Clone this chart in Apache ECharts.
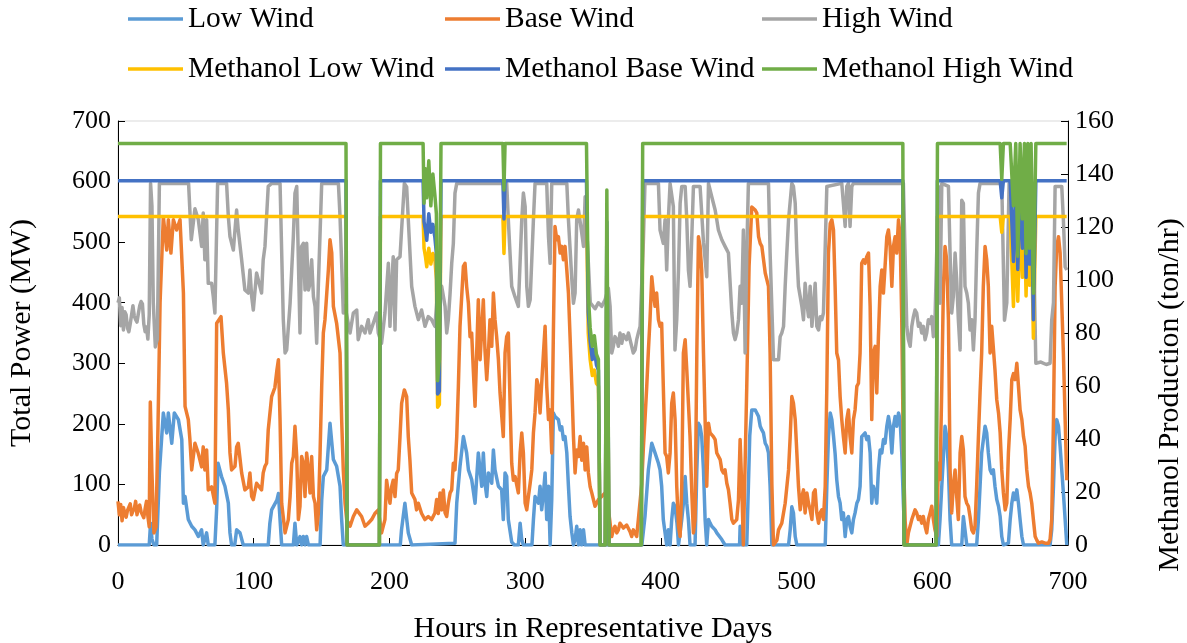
<!DOCTYPE html>
<html><head><meta charset="utf-8">
<script src="https://cdn.jsdelivr.net/npm/echarts@6/dist/echarts.min.js"></script>
<style>html,body{margin:0;padding:0;background:#fff}#c{width:1187px;height:643px}</style>
</head><body><div id="c"></div>
<script>
const xTicks = [0,100,200,300,400,500,600,700];
const leftTicks = [0,100,200,300,400,500,600,700];
const rightTicks = [0,20,40,60,80,100,120,140,160];
const seriesNames = ['Low Wind','Base Wind','High Wind','Methanol Low Wind','Methanol Base Wind','Methanol High Wind'];

const lowWind = [[0,0],[23,0],[24,36],[25,10],[26.5,0],[28.5,0],[30.5,120],[33.4,218],[35.9,185],[37.1,218],[39.6,168],[41.5,218],[44.5,207],[47,174],[48.2,69],[49.4,80],[51.8,42],[54.3,31],[56.7,25],
[59.2,14],[61.6,25],[62.8,0],[65.3,20],[66.5,0],[71.4,0],[72.7,60],[73.7,135],[76.3,113],[78.8,97],[81.3,69],[82.5,20],[83.7,0],[86,0],[87.4,25],[89.9,20],[92.3,0],[110.7,0],[111.9,36],[113.2,58],[117.1,74],
[118.2,85],[119.4,42],[120.6,0],[129.2,0],[130.4,36],[131.7,0],[134.1,14],[135.3,0],[136.6,14],[137.8,0],[139,14],[140.3,0],[148.9,0],[150.1,74],[151.3,113],[153.8,124],[156.2,201],[158.7,141],[161.1,130],[163.6,97],[164.8,42],[166,0],
[208,0],[208.9,25],[211.4,69],[213.9,20],[216.4,0],
[248.3,3],[249.6,69],[252,130],[254.5,179],[256.9,152],[258.2,124],[260.6,108],[263.1,69],[265.5,152],[268,97],[269.2,152],[270.4,102],[271.7,80],[272.9,119],[275.4,102],[276.6,157],[277.8,124],[280.3,97],[282.7,91],[283.9,42],[285.2,119],[286.4,113],[287.6,42],[290.1,5],[292,0],
[295,0],[296.3,36],[297.5,9],[298.7,0],[305,0],[306.1,42],[307.3,80],[309.8,69],[311,97],[312.2,58],[313.5,86],[314.7,119],[315.9,42],[317.2,97],[318.4,0],[319.6,75],[320.8,218],[322,212],[324.5,207],[325.8,190],[327,195],[328.2,174],[329.4,179],[330.7,152],[331.9,97],[333.1,47],[334.4,20],[335.6,0],[336.8,9],[338,31],[339.3,0],[340.5,25],[341.7,0],[343,25],[344.2,0],
[386,0],[388.3,47],[390.8,124],[393.3,168],[395.7,152],[398.2,135],[399.4,124],[400.6,97],[401.8,42],[403.1,20],[404.3,0],[405.5,25],[406.8,0],[408,42],[409.2,69],[410.4,64],[411.9,36],[413,0],[414.2,0],[415.4,42],[416.6,69],[417.9,113],[419.1,69],[420.3,42],[421.5,0],[425.2,0],[426.5,124],[427.7,201],[428.9,196],[430.1,179],[431.4,124],[432.6,42],[433.8,0],[435.1,42],[436.3,36],[437.5,31],[438.7,31],[440,25],[441.2,20],[442.4,20],[444.9,9],[447.3,0],[458,0],[458.4,31],[459.6,0],[463.3,0],[464.5,97],[465.5,180],[467,223],[469.5,223],[470.7,218],[472,212],[473.2,196],[474.4,190],[475.6,185],[476.9,168],[478.1,163],[479.3,152],[480.5,97],[481.8,0],[494.1,0],[495.3,25],[496.5,63],[497.7,53],[499,14],[500.2,0],[521.1,0],[522.3,97],[523.5,179],[524.8,218],[526,207],[527.2,180],[528.4,151],[529.6,108],[530.9,80],[532.1,69],[533.3,42],[534.5,53],[535.8,14],[537,42],[538.2,47],[539.4,31],[540.7,20],[541.9,42],[543.1,53],[544.4,69],[545.6,75],[546.8,97],[548,179],[549.3,179],[550.5,185],[551.7,174],[553,179],[554.2,152],[555.4,69],[556.6,97],[557.9,86],[559.1,69],[560.3,124],[561.6,157],[562.8,152],[564,174],[565.2,168],[566.5,196],[567.7,212],[568.9,196],[570.2,152],[571.4,196],[572.6,212],[573.8,196],[575.1,218],[576.3,207],[577.5,152],[578.7,69],[580,0],
[604.5,0],[605.7,42],[607,97],[609.4,196],[610.6,179],[611.9,124],[613.1,42],[614.3,0],[621.7,0],[622.9,47],[624.1,25],[625.4,0],[632.7,0],[634,42],[635.2,97],[636.4,152],[638.9,196],[640.1,185],[641.3,152],[642.6,124],[643.8,118],[645,124],[646.2,97],[647.5,75],[648.8,64],[650,47],[651.2,14],[652.4,0],[656.1,3],[657.4,42],[658.6,69],[659.8,86],[661,75],[662.3,91],[663.5,69],[664.7,42],[666,14],[667.2,0],[686.8,0],[688,25],[689.3,97],[690.5,179],[691.7,207],[693,196],[694.2,163],[695.4,124],[696.6,86],[697.9,42],[699.1,0]];

const baseWind = [[0,72],[1,50],[2,67],[3,40],[4,62],[5,52],[6,46],[7,57],[8,54],[9,68],[10,50],[11,56],[12,60],[13,72],[14,50],[15,62],[16,66],[17,55],[18,50],[19,45],[20,60],[21,72],[22,48],[23,30],[23.8,236],[25,120],[26.5,20],[28,30],[29.5,200],[31,400],[33.4,542],[35.9,487],[37.1,537],[39,482],[40.8,537],[43.2,520],[45.7,537],[48.2,416],[49.4,229],[50.6,230],[51.8,207],[53,174],[54.3,124],[56.7,168],
[59.2,151],[61.6,129],[62.8,162],[64,124],[65.3,157],[66.5,91],[69,96],[71.4,69],[72.7,366],[75.9,377],[77.6,317],[80,267],[81.3,223],[82.5,152],[83.7,124],[86.2,130],[87.4,162],[88.6,168],[91.1,119],[93.5,91],[96,96],[97.2,119],[98.5,80],[99.7,75],[102.1,102],[103.4,102],[105.8,91],[107,119],[108.3,130],[109.5,135],[110.7,190],[113.2,245],[115.6,260],[117.1,289],
[118.2,306],[119.4,207],[120.6,69],[123.1,20],[125.5,42],[126.8,80],[128,135],[129.2,146],[130.4,196],[131.7,146],[132.9,42],[134.1,64],[135.3,146],[136.6,135],[137.8,80],[139,152],[140.3,124],[141.5,86],[142.7,146],[144,80],[145.2,69],[146.4,25],[147.6,52],[148.9,152],[150.1,262],[151.3,350],[152.5,372],[155,454],[156.2,504],[157.5,482],[158.7,394],[161.1,366],[163.6,317],[164.8,207],[166,124],[167.3,69],[168.5,42],[171,31],[173.4,47],[175.9,58],
[177,58],[179.5,47],[182,31],[184.4,36],[186.9,42],[189.3,52],[191.8,58],[194.2,20],[196.7,42],[197.9,107],[199.2,86],[200.4,69],[201.6,96],[202.8,107],[204.1,80],[205.3,118],[206.5,124],[207.8,179],[209,234],[211,256],[212.7,245],[213.9,179],[215.1,140],[216.4,86],[218.8,75],[220,58],[221.3,69],[223.7,52],[226.2,42],[228.6,47],[231.1,42],[233.5,53],
[234.8,75],[236,52],[237.3,86],[238.5,58],[239.7,91],[241,53],[242.2,47],[243.4,69],[244.7,86],[245.9,91],[247.1,135],[248.3,124],[249.6,179],[250.8,262],[252,361],[254.5,460],[255.7,465],[256.9,427],[258.2,399],[259.4,344],[260.6,350],[261.8,289],[263.1,229],[264.3,317],[265.5,405],[266.8,306],[268,306],[269.2,405],[270.4,322],[271.7,273],[272.9,317],[274.1,372],[275.4,328],[276.6,416],[277.8,372],[279,344],[280.3,306],[281.5,251],[282.7,251],[283.9,179],[285.2,317],[286.4,344],[287.6,350],[288.9,234],[290.1,135],[291.3,107],
[292.6,113],[295,86],[296.3,152],[297.5,185],[298.7,152],[300,69],[301.2,58],[302.4,80],[303.7,102],[304.9,124],[306.1,185],[307.3,218],[308.6,273],[309.8,262],[311,218],[312.2,267],[313.5,317],[314.7,361],[315.9,262],[317.2,207],[318.4,223],[319.6,152],[320.8,350],[322,526],[323.3,504],[324.5,509],[325.8,482],[327,493],[328.2,471],[329.4,493],[330.7,454],[331.9,416],[333.1,344],[334.4,262],[335.6,179],[336.8,119],[338,157],[339.3,146],[340.5,179],[341.7,140],[343,168],[344.2,124],[345.4,162],[346.6,119],[347.9,96],[349.1,86],[351.5,64],
[354,75],[356.4,80],[358.9,86],[361.3,60],[363.8,14],[365,25],[366.2,31],[367.5,20],[368.7,25],[369.9,36],[371.2,36],[372.4,28],[373.6,25],[374.8,33],[376.1,31],[377.3,22],[378.5,14],[379.7,25],[381,25],[382.2,14],[383.4,42],[385.9,100],[387.1,160],[388.3,207],[389.6,262],[390.8,320],[392,372],[393.3,443],[394.5,416],[395.7,394],[396.9,416],[398.2,372],[399.4,361],[400.6,366],[401.8,262],[403.1,152],[404.3,146],[405.5,119],[406.8,152],[408,234],[409.2,251],[410.5,206],
[411.7,97],[413,31],[414.2,14],[415.4,97],[416.6,317],[417.9,339],[419.1,289],[420.3,234],[421.5,179],[422.8,86],[424,20],[425.2,42],[426.5,317],[427.7,509],[428.9,493],[430.1,454],[431.4,317],[432.6,207],[433.8,97],[435.1,201],[436.3,185],[437.5,185],[438.7,179],[440,174],[441.2,152],[442.4,152],[443.7,141],[444.9,124],[446.1,119],[447.3,124],[448.6,102],[449.8,91],[451,69],[452.3,42],[453.5,36],[454.7,36],[455.9,42],[457.2,75],[458.4,174],[459.6,97],[460.8,0],[462.1,0],[463.3,262],[465,460],[467,558],[469.5,553],
[470.7,548],[472,509],[473.2,498],[474.4,493],[475.6,493],[476.9,449],[478.1,438],[479.3,427],[480.5,317],[481.8,100],[483,0],[484.2,0],[485.5,8],[486.7,25],[489.1,36],[491.6,69],[494.1,124],[495.3,179],[496.5,245],[497.7,234],[499,207],[500.2,152],[501.4,97],[502.7,58],[503.9,80],[505.1,91],[506.3,53],[507.6,86],[508.8,69],[510,58],[511.3,42],[512.5,86],[513.7,91],[514.9,53],[516.2,36],[517.4,53],[518.6,58],[519.8,42],[521.1,97],[522.3,262],[523.5,482],[524.8,531],[526,537],[527.2,520],[528.4,427],
[529.6,317],[530.9,305],[532.1,245],[533.3,207],[534.5,179],[535.8,152],[537,207],[538.2,223],[539.4,179],[540.7,152],[541.9,207],[543.1,223],[544.4,262],[545.6,267],[546.8,317],[548,465],[549.3,471],[550.5,465],[551.7,476],[553,482],[554.2,394],[555.4,207],[556.6,317],[557.9,328],[559.1,251],[560.3,344],[561.6,427],[562.8,454],[564,416],[565.2,460],[566.5,509],[567.7,520],[568.9,493],[570.2,427],[571.4,493],[572.6,509],[573.8,482],[575.1,537],[576.3,509],[577.5,372],[578.7,151],[580,40],[581.2,0],[582.4,20],[584.9,42],[587.3,58],
[588.5,53],[589.8,42],[591,47],[592.2,36],[593.4,47],[594.7,31],[595.9,20],[597.1,42],[598.4,53],[599.6,64],[600.8,42],[602,25],[603.3,14],[604.5,135],[605.7,108],[607,262],[608.2,427],[609.4,493],[610.6,471],[611.9,372],[613.1,124],[614.3,53],[615.5,97],[616.8,124],[618,80],[619.2,42],[620.5,152],[621.7,179],[622.9,157],[624.1,80],[625.4,69],[626.6,64],[627.8,47],[629.1,25],[630.3,20],[631.5,31],[632.7,97],[634,179],[635.2,251],[636.4,317],[637.6,427],[638.9,493],[640.1,471],[641.3,427],[642.6,317],[643.8,361],[645,361],[646.2,289],
[647.5,240],[648.8,218],[650,185],[651.2,124],[652.4,86],[653.7,58],[654.9,69],[656.1,152],[657.4,207],[658.6,273],[659.8,283],[661,273],[662.3,300],[663.5,262],[664.7,223],[666,207],[667.2,179],[668.4,163],[669.6,124],[670.9,97],[672.1,86],[673.3,69],[674.5,42],[675.8,14],[677,8],[678.2,3],[680.7,5],[683.1,3],[685.6,3],[686.8,9],[688,42],[689.3,207],[690.5,427],[691.7,493],[693,509],[694.2,482],[695.4,399],[696.6,317],[697.9,207],[699.1,107]];

const highWind = [[0,400],[1,408],[2,362],[3,392],[4,355],[5,385],[6,380],[7,358],[8,352],[9,365],[10,362],[11,395],[12,378],[13,372],[14,368],[15,382],[16,395],[17,402],[18,398],[19,365],[20,352],[21,360],[22,340],[23,380],[24,597],[25,560],[26,400],[27.5,327],[29,340],[30.5,597],[52,597],[54,504],[56.7,555],
[59.2,537],[61.6,493],[62.8,548],[64,471],[65.3,537],[66.5,432],[69,432],[70.2,410],[71.4,383],[73.4,597],[80,597],[81.3,542],[82.5,509],[85,487],[86.2,520],[87.4,553],[88.6,520],[91.1,471],[93.5,421],[96,416],[97.2,454],[98.5,410],[99.7,388],[102.1,449],[103.4,451],[105.8,416],[107,471],[108.3,493],[109.5,493],[110.7,592],[113.2,597],
[119.4,597],[121.8,372],[123.1,317],[124.3,322],[126.8,399],[129.2,509],[130.4,581],[131.7,592],[132.9,471],[134.1,350],[135.3,493],[136.6,498],[137.8,421],[139,498],[140.3,421],[141.5,432],[142.7,471],[144,410],[145.2,394],[146.4,333],[147.6,427],[150.1,597],[162.4,597],[163.6,542],[164.8,465],[166,383],[167.3,394],[171,350],[173.4,383],[175.9,388],
[177,339],[179.5,361],[182,350],[184.4,372],[185.7,350],[188.1,366],[190.6,383],[191.8,350],[194.2,333],[196.7,383],[199.2,465],[200.4,361],[201.6,427],[202.8,476],[204.1,355],[205.3,471],[207.8,476],[211,597],[212.7,591],[213.9,537],[216.4,427],[218.8,394],[221.3,372],[223.7,388],[226.2,361],[228.6,377],[231.1,372],[233.5,361],
[236,432],[238.5,427],[241,394],[242.2,350],[243.4,372],[244.7,416],[245.9,465],[247.1,498],[248.3,581],[249.6,597],[286.4,597],[287.6,537],[290.1,427],[292.5,410],
[295,394],[297.5,537],[298.7,581],[300,559],[301.2,427],[302.4,394],[303.7,405],[306.1,537],[307.3,597],[315.9,597],[317.2,509],[318.4,465],[319.6,597],[330.7,597],[331.9,537],[334.4,438],[335.6,399],[336.8,416],[338,537],[339.3,553],[341.7,515],[343,493],[344.2,575],[345.4,520],[348,400],[351.5,390],
[354,400],[356.4,394],[358.9,405],[361.3,424],[362.6,394],[363.8,317],[365,328],[366.2,344],[367.5,339],[368.7,328],[369.9,350],[371.2,333],[372.4,347],[373.6,344],[374.8,339],[376.1,350],[377.3,339],[378.5,328],[379.7,317],[381,322],[382.2,339],[383.4,350],[384.7,361],[387.1,500],[388.3,597],[398.2,597],[399.4,520],[400.6,509],[401.8,498],[403.1,537],[404.3,454],[405.5,537],[406.8,597],[408,597],[409.2,559],[410.4,322],
[411.7,372],[413,454],[414.2,564],[415.4,592],[417.9,592],[419.1,537],[420.3,454],[421.5,427],[422.8,509],[424,592],[428.9,592],[431.4,500],[433.8,443],[435.1,597],[436.3,597],[437.5,575],[440,553],[441.2,537],[442.4,520],[444.9,504],[447.3,493],[449.8,482],[452.3,383],[453.5,350],[454.7,339],[455.9,350],[457.2,372],[458.4,427],[459.6,399],[460.8,520],[462.1,317],[463.3,480],[464.5,597],
[479.3,597],[480.5,482],[483,306],[486.7,306],[487.9,344],[489.1,350],[490.4,361],[491.6,427],[492.8,482],[494.1,537],[496.5,597],[497.7,592],[499,564],[500.2,482],[501.4,427],[503.9,394],[505.1,372],[506.3,432],[507.6,399],[508.8,377],[510,427],[511.3,361],[512.5,394],[513.7,432],[514.9,361],[516.2,355],[517.4,377],[518.6,372],[519.8,383],[521.1,383],[522.3,592],[533.3,597],[534.5,564],[535.8,526],[537,592],[538.2,597],[539.4,526],[540.7,592],[541.9,597],[578.7,597],[581.2,361],[582.4,339],[583.7,328],[584.9,361],[586.1,377],[587.3,388],
[588.5,383],[589.8,361],[591,366],[592.2,350],[593.4,361],[594.7,339],[595.9,350],[597.1,372],[598.4,366],[599.6,377],[600.8,344],[602,372],[604.5,592],[605.7,399],[607,597],[611.9,592],[613.1,482],[614.3,383],[615.5,410],[616.8,482],[618,437],[619.2,372],[620.5,322],[621.7,569],[622.9,564],[624.1,427],[625.4,416],[626.6,399],[627.8,355],[629.1,372],[630.3,322],[631.5,372],[632.7,482],[634,581],[635.2,597],
[651.2,597],[653.2,371],[654.9,400],[656.6,597],[674.5,597],[675.3,420],[676.3,300],[680,302],[684,298],[686.8,300],[688,371],[689.3,400],[690.5,592],[695.4,592],[696.6,537],[697.9,459],[699.1,454]];

const methLow = [[0,124],[168,124],[168.8,0],[192.6,0],[193.4,124],[224.8,124],[225.5,112],[226.5,109],[227.5,105],[229,112],[230.5,106],[232,110],[233.5,108],[234.6,100],[235.5,52],[236.8,53],[238,124],[283.6,124],[284.4,110],[285.2,124],[345.2,124],[346.5,80],[347.9,70],[349.5,64],[351,66],[352.5,61],[354,60],[355.2,0],[359,0],[360.2,110],[361.8,0],[385.6,0],[386.6,124],[578.3,124],[579.2,0],[602.8,0],[603.8,124],[650,124],[651.2,118],[652.4,124],[657.4,124],[659.8,90],[661.5,124],[663,92],[664.7,124],[666.4,101],[667.9,124],[669.1,94],[670.4,124],[671.6,98],[672.8,124],[674.5,78],[676.3,124],[699,124]];

const methBase = [[0,137.5],[168,137.5],[168.8,0],[192.6,0],[193.4,137.5],[224.8,137.5],[225.5,122],[226.5,119],[227.5,115],[229,125],[230.5,118],[232,121],[233.5,116],[234.6,110],[235.5,57],[236.8,58],[238,137.5],[283.6,137.5],[284.4,123],[285.2,137.5],[345.2,137.5],[346.5,88],[347.9,77],[349.5,70],[351,74],[352.5,68],[354,66],[355.2,0],[359,0],[360.2,122],[361.8,0],[385.6,0],[386.6,137.5],[578.3,137.5],[579.2,0],[602.8,0],[603.8,137.5],[650,137.5],[651.2,131],[652.4,137.5],[657.4,137.5],[659.8,107],[661.5,137.5],[663,104],[664.7,137.5],[666.4,112],[667.9,137.5],[669.1,101],[670.4,137.5],[671.6,106],[672.8,137.5],[674.5,85],[676.3,137.5],[699,137.5]];

const methHigh = [[0,151.5],[168,151.5],[168.8,0],[192.6,0],[193.4,151.5],[224.8,151.5],[225.5,129],[226.5,142],[227.5,131],[229,145],[230.5,128],[232,140],[233.5,132],[234.6,125],[235.5,62],[236.8,70],[238,151.5],[283.6,151.5],[284.4,134],[285.2,151.5],[345.2,151.5],[346.5,95],[347.9,82],[349.5,75],[351,79],[352.5,72],[354,70],[355.2,0],[359,0],[360.2,134],[361.8,0],[385.6,0],[386.6,151.5],[578.3,151.5],[579.2,0],[602.8,0],[603.8,151.5],[650,151.5],[651.2,138],[652.4,151.5],[657.4,151.5],[659.8,128],[661.5,151.5],[663,109],[664.7,151.5],[666.4,123],[667.9,151.5],[669.1,110],[670.4,151.5],[671.6,112],[672.8,151.5],[674.5,95],[676.3,151.5],[699,151.5]];

const colors = ['#5B9BD5','#ED7D31','#A5A5A5','#FFC000','#4472C4','#70AD47'];
const F = 'Liberation Serif';
const chart = echarts.init(document.getElementById('c'), null, {renderer:'canvas'});
const datasets = [lowWind, baseWind, highWind, methLow, methBase, methHigh];
const series = seriesNames.map((n,i) => ({
  name: n, type: 'line', data: datasets[i], yAxisIndex: i < 3 ? 0 : 1,
  symbol: 'none', showSymbol: false, smooth: false,
  lineStyle: {color: colors[i], width: 3.5, join: 'round'},
  itemStyle: {color: colors[i]}, emphasis: {disabled: true}, animation: false
}));
const legendLeft = [128, 445, 762];
const legend = seriesNames.map((n,i) => ({
  data: [n], left: legendLeft[i % 3], top: i < 3 ? 4 : 54, padding: 0,
  icon: 'rect', itemWidth: 55, itemHeight: 3.5, itemGap: 5, selectedMode: false,
  textStyle: {fontFamily: F, fontSize: 29.5, color: '#000'}
}));
const axisCommon = {
  axisLine: {show: true, lineStyle: {color: '#000', width: 1}},
  axisTick: {show: true, inside: true, length: 7, lineStyle: {color: '#000'}},
  splitLine: {show: false},
  axisLabel: {fontFamily: F, fontSize: 26, color: '#000'},
  nameTextStyle: {fontFamily: F, fontSize: 30, color: '#000'}
};
chart.setOption({
  animation: false,
  backgroundColor: '#fff',
  legend: legend,
  grid: {left: 118, right: 119, top: 121, bottom: 98, containLabel: false, outerBoundsMode: 'none', show: true, borderColor: '#D9D9D9', borderWidth: 1},
  xAxis: Object.assign({}, axisCommon, {
    type: 'value', min: xTicks[0], max: xTicks[xTicks.length-1], interval: 100,
    name: 'Hours in Representative Days', nameLocation: 'middle', nameGap: 69,
    axisLabel: Object.assign({}, axisCommon.axisLabel, {margin: 24})
  }),
  yAxis: [
    Object.assign({}, axisCommon, {
      type: 'value', min: leftTicks[0], max: leftTicks[leftTicks.length-1], interval: 100, position: 'left',
      name: 'Total Power (MW)', nameLocation: 'middle', nameGap: 81, nameRotate: 90,
      axisLabel: Object.assign({}, axisCommon.axisLabel, {margin: 7})
    }),
    Object.assign({}, axisCommon, {
      type: 'value', min: rightTicks[0], max: rightTicks[rightTicks.length-1], interval: 20, position: 'right',
      axisLabel: Object.assign({}, axisCommon.axisLabel, {margin: 7})
    })
  ],
  graphic: [{
    type: 'text', x: 1170, y: 395, rotation: Math.PI / 2,
    style: {text: 'Methanol Production (ton/hr)', font: '30px "Liberation Serif"', fill: '#000', textAlign: 'center', textVerticalAlign: 'middle'}
  }],
  series: series
});
</script></body></html>
